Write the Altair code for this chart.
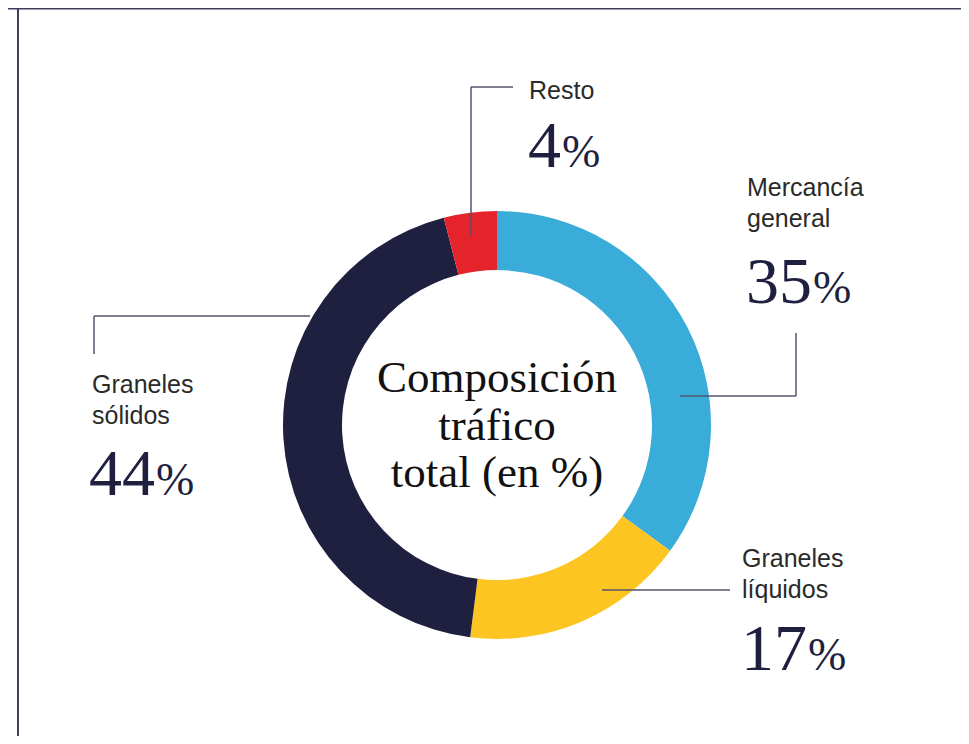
import altair as alt
import pandas as pd

# ---- data ----
categories = ["Mercancía general", "Graneles líquidos", "Graneles sólidos", "Resto"]
values = [35, 17, 44, 4]
colors = ["#3AACD9", "#FDC521", "#1F1F40", "#E5232B"]
label_lines = [["Mercancía", "general"], ["Graneles", "líquidos"], ["Graneles", "sólidos"], ["Resto"]]
center_title = ["Composición", "tráfico", "total (en %)"]

# ---- layout (chart pixel coordinates; page margin 8px) ----
W, H = 953, 728
CX, CY = 489, 417
R_IN, R_OUT = 155, 214
OFF = 8
label_pos = [(747, 196), (742, 567), (92, 393), (529, 99)]      # first label line baseline
pct_pos = [(746, 303), (741, 670), (89, 495), (528, 167)]       # percentage baseline
LINE_GAP = 31
NUM_SIZE, PCT_SIZE = 66, 46
leaders = [  # (x, y, x2, y2) reference pixels
    (680, 396, 796, 396), (796, 396, 796, 333),
    (602, 590, 730, 590),
    (94, 316, 310, 316), (94, 316, 94, 354),
    (471, 236, 471, 87), (471, 87, 513, 87),
]

pie_df = pd.DataFrame({"cat": categories, "value": values, "idx": range(len(values))})

lab_rows, num_rows, pc_rows = [], [], []
for lines, (lx, ly), (px, py), v in zip(label_lines, label_pos, pct_pos, values):
    for i, t in enumerate(lines):
        lab_rows.append({"t": t, "x": lx - OFF, "y": ly - OFF + i * LINE_GAP})
    s = str(v)
    num_rows.append({"t": s, "x": px - OFF, "y": py - OFF})
    pc_rows.append({"t": "%", "x": px - OFF + len(s) * 0.5 * NUM_SIZE + 1, "y": py - OFF})
lab_df = pd.DataFrame(lab_rows)
num_df = pd.DataFrame(num_rows)
pc_df = pd.DataFrame(pc_rows)
center_df = pd.DataFrame({"t": center_title, "x": [CX] * 3, "y": [392 - OFF, 440 - OFF, 487 - OFF]})
lead_df = pd.DataFrame([{"x": a - OFF, "y": b - OFF, "x2": c - OFF, "y2": d - OFF} for a, b, c, d in leaders])
frame_df = pd.DataFrame([{"x": 10, "y": 0, "x2": 10, "y2": H}, {"x": 0, "y": 0.5, "x2": W, "y2": 0.5}])

arc = alt.Chart(pie_df).mark_arc(innerRadius=R_IN, outerRadius=R_OUT).encode(
    theta=alt.Theta("value:Q", stack=True),
    color=alt.Color("cat:N", scale=alt.Scale(domain=categories, range=colors), legend=None),
    order=alt.Order("idx:Q"),
    x=alt.value(CX), y=alt.value(CY),
)

def pos(df):
    return dict(x=alt.X("x:Q", scale=None), y=alt.Y("y:Q", scale=None))

rules = alt.Chart(lead_df).mark_rule(color="#55556E", strokeWidth=1.5).encode(
    x=alt.X("x:Q", scale=None), y=alt.Y("y:Q", scale=None),
    x2="x2:Q", y2="y2:Q")
frame = alt.Chart(frame_df).mark_rule(color="#3F3F5C", strokeWidth=2).encode(
    x=alt.X("x:Q", scale=None), y=alt.Y("y:Q", scale=None),
    x2="x2:Q", y2="y2:Q")

labels = alt.Chart(lab_df).mark_text(font="Liberation Sans", fontSize=25, color="#2A2A2A",
                                     align="left", baseline="alphabetic").encode(text="t:N", **pos(lab_df))
nums = alt.Chart(num_df).mark_text(font="Liberation Serif", fontSize=NUM_SIZE, color="#1F1F40",
                                   align="left", baseline="alphabetic").encode(text="t:N", **pos(num_df))
pcs = alt.Chart(pc_df).mark_text(font="Liberation Serif", fontSize=PCT_SIZE, color="#1F1F40",
                                 align="left", baseline="alphabetic").encode(text="t:N", **pos(pc_df))
center = alt.Chart(center_df).mark_text(font="Liberation Serif", fontSize=45, color="#111111",
                                        align="center", baseline="alphabetic").encode(text="t:N", **pos(center_df))

chart = alt.layer(frame, arc, rules, labels, nums, pcs, center).properties(
    width=W, height=H, padding=0, autosize="none"
).configure_view(stroke=None)

chart.save("out.html", embed_options={"renderer": "svg", "actions": False})
